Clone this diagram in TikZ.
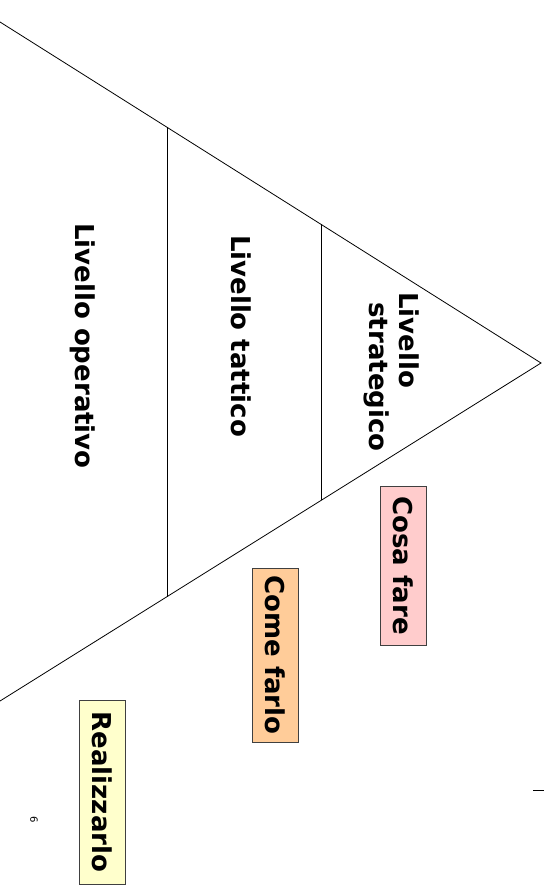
\documentclass[tikz,border=0pt]{standalone}
\usepackage{fontspec}
\setmainfont{DejaVu Sans}
\begin{document}
\begin{tikzpicture}[x=1pt,y=-1pt,
  edge/.style={line width=0.8pt,black},
  level/.style={rotate=-90,font=\fontsize{26}{30}\selectfont\bfseries,inner sep=0pt},
  tag/.style={rotate=-90,font=\fontsize{26}{30}\selectfont\bfseries,draw=black!75,line width=0.6pt,
    minimum height=46,inner sep=0pt},
  pagenum/.style={rotate=-90,font=\fontsize{10}{11}\selectfont,inner sep=0pt}]
\useasboundingbox (0,0) rectangle (544,885);
% pyramid outline, lying on its side
\coordinate (apex) at (541,363);
\coordinate (tl) at (0,22);
\coordinate (bl) at (0,701);
\coordinate (t1) at (167,127);
\coordinate (b1) at (167,597);
\coordinate (t2) at (321,224);
\coordinate (b2) at (321,500);
\draw[edge] (tl) -- (apex) -- (bl);
\draw[edge] (t1) -- (b1);
\draw[edge] (t2) -- (b2);
% level labels
\node[level] (op) at (83,346) {Livello operativo};
\node[level] (tat) at (241,336) {Livello tattico};
\node[level,align=left] (str) at (392,372) {Livello\\\hspace*{10pt}strategico};
% tags
\node[tag,fill={rgb,255:red,255;green,204;blue,204},minimum width=159] (cosa) at (403.5,565.5) {Cosa fare};
\node[tag,fill={rgb,255:red,255;green,204;blue,153},minimum width=174] (come) at (275,655) {Come farlo};
\node[tag,fill={rgb,255:red,255;green,255;blue,204},minimum width=184] (real) at (102,792) {Realizzarlo};
% page furniture
\coordinate (m1) at (533,790);
\coordinate (m2) at (544,790);
\draw[line width=0.8pt] (m1) -- (m2);
\node[pagenum] (num) at (34,820) {6};
\end{tikzpicture}
\end{document}
